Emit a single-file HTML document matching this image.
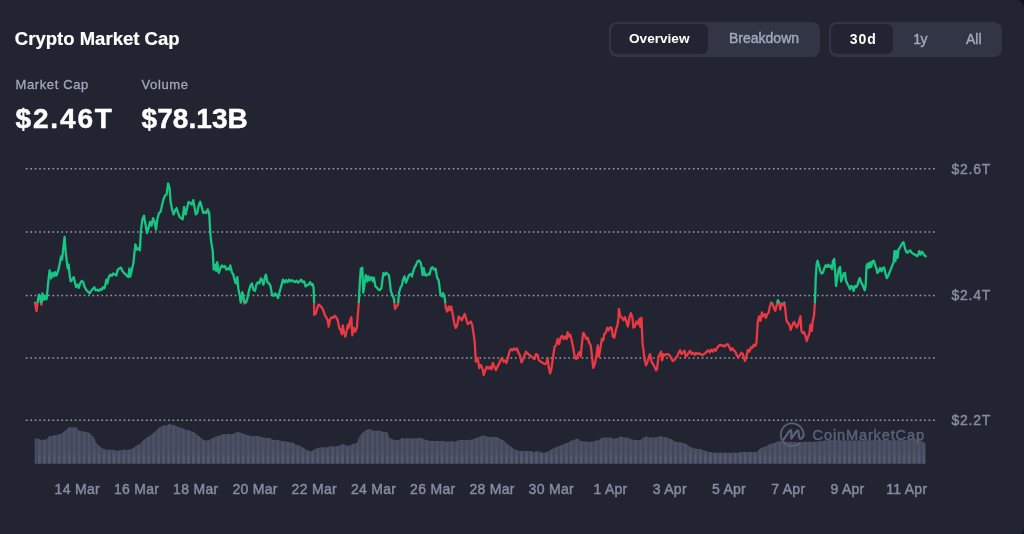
<!DOCTYPE html>
<html lang="en">
<head>
<meta charset="utf-8">
<title>Crypto Market Cap</title>
<style>
html,body{margin:0;padding:0;}
body{width:1024px;height:534px;overflow:hidden;background:#0d1421;font-family:"Liberation Sans",Arial,sans-serif;}
.card{position:absolute;left:0;top:0;width:1024px;height:534px;background:#222531;border-radius:0 7px 4px 0 / 0 10px 6px 0;overflow:hidden;}
.layer{position:absolute;left:0;top:0;width:1024px;height:534px;will-change:transform;}
.abs{position:absolute;white-space:nowrap;line-height:1;}
.title{left:14.8px;top:30px;font-size:18.5px;font-weight:700;color:#fff;letter-spacing:0.02px;-webkit-text-stroke:0.2px #fff;}
.lbl{font-size:13px;color:#a1a7bb;letter-spacing:0.62px;-webkit-text-stroke:0.3px #a1a7bb;}
.val{font-size:28px;font-weight:700;color:#fff;-webkit-text-stroke:0.45px #fff;}
.seg{position:absolute;background:#323546;border-radius:8px;}
.pill{position:absolute;background:#222531;border-radius:6px;}
.btn{font-size:14px;font-weight:400;color:#a1a7bb;-webkit-text-stroke:0.45px #a1a7bb;}
.btn.on{color:#fff;font-weight:700;-webkit-text-stroke:0;}
svg{position:absolute;left:0;top:0;}
svg text{font-family:"Liberation Sans",Arial,sans-serif;}
</style>
</head>
<body>
<div class="card"></div>
<div class="layer">
<div class="abs title" id="title">Crypto Market Cap</div>
<div class="abs lbl" id="l1" style="left:15.5px;top:78.4px;">Market Cap</div>
<div class="abs lbl" id="l2" style="left:141.5px;top:78.4px;">Volume</div>
<div class="abs val" id="v1" style="left:15.5px;top:105px;letter-spacing:1.85px;">$2.46T</div>
<div class="abs val" id="v2" style="left:141.5px;top:105px;letter-spacing:0.08px;">$78.13B</div>

<div class="seg" style="left:609px;top:21.7px;width:211.2px;height:35.5px;"></div>
<div class="pill" style="left:610.8px;top:23.5px;width:97px;height:30.7px;"></div>
<div class="abs btn on" id="b1" style="left:629px;top:31.5px;font-size:13.6px;">Overview</div>
<div class="abs btn" id="b2" style="left:729px;top:31.3px;">Breakdown</div>

<div class="seg" style="left:829.4px;top:21.7px;width:173px;height:35.6px;"></div>
<div class="pill" style="left:831.2px;top:23.5px;width:61.5px;height:30.7px;"></div>
<div class="abs btn on" id="b3" style="left:849.7px;top:31.9px;letter-spacing:1px;">30d</div>
<div class="abs btn" id="b4" style="left:913.3px;top:31.9px;letter-spacing:-0.5px;">1y</div>
<div class="abs btn" id="b5" style="left:966px;top:31.9px;">All</div>

<svg width="1024" height="534" viewBox="0 0 1024 534">
<defs>
<linearGradient id="lg" gradientUnits="userSpaceOnUse" x1="0" y1="0" x2="0" y2="534">
<stop offset="0" stop-color="#16c784"/>
<stop offset="0.56685" stop-color="#16c784"/>
<stop offset="0.56685" stop-color="#ea3943"/>
<stop offset="1" stop-color="#ea3943"/>
</linearGradient>
<pattern id="stripes" patternUnits="userSpaceOnUse" x="32.95" y="400" width="4.97" height="70">
<rect x="0" y="0" width="4.97" height="70" fill="#43475a"/>
<rect x="0" y="0" width="3" height="70" fill="#4c5065"/>
<path d="M0 64 L0 58 L1.5 52.5 L3 58 L3 64 Z" fill="#53586e"/>
<rect x="3" y="58.5" width="1.97" height="5.5" fill="#3f4356"/>
</pattern>
</defs>
<g stroke="#95969f" stroke-width="1.5" stroke-dasharray="1.7 2.747">
<line x1="25.8" x2="936" y1="168.8" y2="168.8"/>
<line x1="25.8" x2="936" y1="231.9" y2="231.9"/>
<line x1="25.8" x2="936" y1="295.5" y2="295.5"/>
<line x1="25.8" x2="936" y1="357.9" y2="357.9"/>
<line x1="25.8" x2="936" y1="420.3" y2="420.3"/>
</g>
<path id="vol" d="M34.8 438.4 L38.8 438.7 L40.5 440.0 L46.7 439.6 L49.0 436.1 L52.9 435.7 L55.5 434.9 L58.1 434.7 L61.6 433.5 L65.2 430.5 L69.0 427.3 L76.6 427.3 L79.2 430.8 L82.7 431.2 L86.2 432.1 L88.9 432.6 L91.5 434.7 L93.6 437.0 L95.9 442.2 L99.4 446.3 L103.0 448.8 L106.5 449.8 L112.6 449.8 L117.9 450.7 L123.2 449.8 L128.4 449.8 L132.8 448.4 L135.5 446.3 L139.9 444.0 L142.5 441.0 L146.0 437.9 L150.4 435.2 L153.9 432.6 L156.6 429.9 L160.1 426.9 L164.5 425.2 L167.1 425.6 L169.7 423.4 L172.4 425.0 L175.9 425.6 L178.5 427.3 L182.1 427.7 L184.7 429.4 L188.2 429.9 L191.7 431.2 L195.2 433.1 L198.8 436.1 L200.0 437.0 L203.5 440.0 L207.9 440.5 L211.4 438.7 L215.8 436.4 L219.3 435.7 L222.8 434.3 L228.1 434.0 L233.4 434.0 L236.9 432.1 L240.4 432.6 L243.9 434.0 L247.5 434.9 L251.8 436.1 L258.0 436.1 L261.5 437.0 L265.9 437.9 L270.3 437.9 L272.9 440.0 L277.3 440.1 L281.7 441.0 L286.1 441.4 L289.6 442.2 L293.2 442.8 L296.7 444.9 L300.2 445.8 L303.7 448.1 L307.2 450.2 L311.6 451.6 L314.3 449.3 L317.8 448.1 L321.3 447.2 L326.6 447.5 L330.1 446.3 L337.1 446.3 L340.6 444.9 L343.3 444.0 L346.8 445.8 L349.4 445.4 L352.9 444.0 L357.3 442.8 L359.1 437.0 L362.6 432.6 L366.1 429.9 L368.8 429.1 L370.0 428.7 L372.6 430.8 L380.6 430.8 L383.2 432.1 L387.2 432.1 L389.0 437.0 L392.0 439.3 L395.5 440.0 L399.0 440.0 L401.3 438.2 L417.5 438.2 L420.1 437.5 L422.7 438.7 L426.2 440.0 L430.6 441.0 L443.8 441.0 L447.3 441.7 L450.9 441.0 L455.2 441.7 L458.8 440.0 L470.2 440.0 L472.8 439.3 L475.5 438.2 L479.0 437.0 L483.4 435.2 L486.9 436.4 L491.3 437.1 L496.6 437.1 L500.1 438.7 L503.6 440.5 L506.2 443.1 L509.7 445.8 L513.3 448.4 L516.8 450.2 L520.3 451.0 L530.0 451.0 L534.4 451.9 L537.0 451.0 L539.6 451.6 L540.0 451.9 L544.4 452.8 L547.9 451.6 L551.4 449.3 L555.8 447.2 L560.2 445.8 L563.7 444.0 L568.1 442.8 L571.6 440.5 L575.2 439.6 L577.8 438.4 L580.4 441.0 L586.6 441.4 L590.1 441.9 L594.5 441.0 L598.9 440.0 L602.4 437.5 L610.3 437.5 L614.7 438.7 L617.3 437.9 L620.9 436.4 L624.4 437.5 L627.9 437.5 L631.4 439.3 L634.9 440.0 L640.2 440.0 L643.7 437.5 L646.4 436.4 L649.9 437.5 L656.0 437.5 L660.4 436.1 L663.9 437.0 L668.3 437.9 L671.8 439.6 L675.4 441.7 L680.6 442.2 L685.0 443.5 L689.4 446.3 L692.9 448.1 L696.4 448.8 L700.8 449.3 L704.4 450.5 L708.8 451.9 L710.0 451.9 L714.4 452.8 L738.1 452.8 L740.8 451.9 L756.6 451.9 L759.2 449.3 L761.9 447.5 L766.2 446.3 L769.8 444.0 L775.0 442.8 L777.7 441.0 L782.1 441.4 L787.3 441.7 L797.9 442.2 L804.9 441.7 L815.5 441.7 L830.0 440.0 L850.0 440.5 L880.0 440.0 L900.0 440.2 L915.0 439.5 L921.0 440.5 L923.5 442.0 L925.5 443.5 L925.5 463.8 L34.8 463.8 Z" fill="url(#stripes)"/>
<g id="wm" fill="none" stroke="#5a6077" stroke-linecap="round" stroke-linejoin="round">
<path stroke-width="1.8" d="M799.5 443.5 A11.4 11.4 0 1 1 803.5 436.2"/>
<path stroke-width="2.2" d="M783.6 439.3 L789.4 431.2 Q791.3 428.8 791.3 432 L791.3 438.7 L796.5 431.4 Q798.4 429.2 798.6 432.4 L799 436.3 Q799.5 439.8 801.6 438.3 Q803 437.2 803.6 435.2"/>
</g>
<text id="wmt" x="812.6" y="440.3" font-size="14.6" fill="#5a6077" stroke="#5a6077" stroke-width="0.5" textLength="111.4" lengthAdjust="spacing">CoinMarketCap</text>
<path id="line" d="M35.0 302.8 L36.5 311.0 L37.5 302.8 L39.0 294.7 L40.0 296.0 L41.0 303.5 L41.5 304.8 L42.5 293.5 L44.1 299.7 L45.6 296.0 L46.6 299.2 L48.1 283.4 L49.6 270.4 L51.1 278.4 L52.6 272.9 L54.1 276.4 L55.1 272.1 L56.6 275.4 L58.1 270.9 L59.6 264.6 L61.1 256.3 L62.1 259.6 L63.6 245.3 L64.6 237.0 L65.6 250.8 L66.7 260.8 L67.7 268.4 L68.7 264.6 L69.7 275.9 L70.7 281.4 L72.2 279.7 L73.7 277.1 L75.2 283.4 L76.2 287.2 L77.7 284.7 L78.7 287.9 L80.2 283.4 L81.7 280.9 L83.2 282.2 L84.7 287.2 L86.2 289.7 L87.7 291.4 L89.7 293.5 L91.2 290.9 L92.8 288.9 L94.3 287.2 L95.8 290.4 L97.3 289.7 L98.8 290.9 L100.3 289.2 L101.8 289.7 L102.8 287.2 L104.3 288.4 L105.3 285.4 L106.3 279.7 L107.3 283.4 L108.8 277.1 L110.3 274.6 L111.8 275.9 L113.3 273.4 L114.8 274.6 L116.3 275.4 L117.8 269.6 L119.4 268.4 L120.9 267.6 L122.4 270.9 L123.9 272.9 L125.4 274.1 L126.9 275.9 L128.4 277.1 L129.4 268.4 L130.4 276.6 L131.9 269.6 L133.4 263.3 L134.4 253.3 L135.4 244.5 L136.9 249.5 L138.4 248.3 L139.9 250.3 L140.9 230.7 L142.4 219.4 L144.0 215.7 L145.5 224.4 L147.0 233.2 L148.5 228.2 L150.0 221.9 L151.5 225.7 L153.0 218.2 L154.5 221.9 L156.0 229.5 L157.5 218.2 L159.0 213.1 L160.5 211.9 L162.0 205.6 L163.5 199.3 L165.0 195.6 L166.6 194.3 L168.1 183.5 L169.6 188.0 L170.6 201.8 L172.1 209.4 L173.6 214.4 L175.1 210.6 L176.6 208.1 L178.1 213.1 L179.6 216.9 L181.1 218.2 L182.6 219.4 L184.1 206.9 L185.6 214.4 L187.1 208.1 L188.6 201.8 L190.1 203.1 L191.7 204.4 L193.2 200.1 L194.7 208.1 L195.7 214.4 L197.2 213.1 L198.7 205.6 L200.2 201.8 L201.7 206.9 L203.2 213.1 L204.7 211.9 L206.2 213.1 L207.7 209.4 L209.2 213.1 L210.2 232.0 L211.2 242.0 L212.7 250.8 L213.7 269.6 L215.2 264.6 L216.2 270.9 L217.2 262.1 L218.8 272.9 L220.3 268.4 L221.8 265.4 L223.3 267.1 L224.8 265.9 L226.3 269.6 L227.8 268.4 L229.3 269.6 L230.3 265.4 L231.8 272.1 L233.3 274.6 L234.8 280.9 L235.8 283.4 L237.3 277.1 L238.3 288.4 L239.8 296.0 L240.8 302.8 L242.3 292.2 L243.3 296.0 L244.4 303.5 L245.9 302.8 L247.4 298.5 L248.9 290.9 L250.4 285.9 L251.9 283.4 L253.4 289.7 L254.9 290.9 L256.4 284.7 L257.9 282.2 L259.4 283.4 L260.9 278.4 L262.4 280.9 L263.4 284.7 L264.9 277.1 L265.9 274.6 L267.4 282.2 L269.0 283.4 L270.5 285.9 L272.0 294.7 L273.5 296.0 L275.0 293.5 L276.5 294.7 L278.0 298.0 L279.5 292.2 L281.5 285.1 L283.0 279.6 L284.5 282.6 L286.0 280.1 L287.5 282.1 L289.0 279.6 L290.5 281.4 L292.1 280.1 L293.6 281.4 L295.1 282.1 L296.6 280.6 L298.1 282.6 L299.6 281.4 L301.1 279.6 L302.6 282.1 L304.1 281.4 L305.6 286.4 L307.1 285.1 L308.6 284.6 L310.1 282.1 L311.6 285.1 L312.6 283.9 L313.6 287.6 L314.1 302.7 L314.1 314.8 L315.6 314.0 L317.1 309.0 L318.6 304.7 L320.2 305.7 L321.7 307.2 L323.2 310.2 L324.7 314.8 L326.2 317.3 L327.7 320.3 L328.7 326.6 L330.2 319.0 L331.7 317.3 L333.2 317.8 L334.7 315.8 L336.2 317.3 L337.7 320.3 L339.2 327.8 L340.7 330.3 L341.8 334.1 L342.8 325.3 L343.8 331.6 L345.3 336.6 L346.8 330.3 L347.8 324.8 L348.8 327.8 L349.8 321.5 L351.3 317.3 L352.3 335.3 L353.8 327.8 L355.3 331.6 L356.8 327.8 L357.8 315.3 L358.8 302.7 L359.8 282.6 L360.8 268.8 L362.3 267.6 L363.3 292.7 L364.8 282.6 L365.8 275.1 L367.4 281.4 L368.4 276.4 L369.9 280.1 L371.4 277.1 L372.9 281.4 L373.9 277.6 L375.4 286.4 L376.9 287.6 L378.4 289.7 L379.9 290.2 L381.4 288.1 L382.4 280.1 L383.4 273.1 L384.9 275.1 L385.9 272.6 L387.4 273.9 L388.9 275.1 L389.9 282.6 L390.9 291.4 L392.4 295.2 L394.0 298.9 L395.0 309.0 L396.5 306.5 L398.0 304.7 L399.0 292.7 L400.5 287.6 L402.0 285.1 L403.0 280.1 L404.5 276.4 L406.0 282.6 L407.5 278.9 L409.0 275.1 L410.5 273.9 L412.0 276.4 L413.0 272.1 L414.5 267.6 L416.0 265.1 L417.6 261.3 L419.1 260.5 L420.6 262.6 L421.6 267.6 L422.6 275.1 L423.6 268.1 L425.1 275.1 L426.6 275.6 L428.1 273.9 L429.6 274.6 L431.1 268.1 L432.6 267.1 L434.1 269.6 L435.6 268.8 L437.1 277.6 L438.6 280.1 L439.6 287.6 L440.6 295.2 L442.1 296.4 L443.1 293.2 L444.7 297.7 L445.7 307.7 L447.2 311.5 L448.7 306.5 L449.7 310.2 L451.2 306.5 L452.7 314.0 L454.2 322.8 L455.7 327.8 L457.2 325.3 L458.7 316.5 L460.2 317.8 L461.7 320.3 L463.2 317.3 L464.7 314.0 L466.2 319.0 L467.8 324.1 L469.3 322.8 L470.8 321.5 L472.3 325.3 L473.8 335.3 L474.8 342.9 L475.8 361.7 L477.3 357.9 L478.3 361.7 L479.3 368.0 L480.8 365.0 L482.3 368.0 L483.8 375.0 L485.3 370.5 L486.8 366.7 L488.3 368.5 L489.8 366.7 L491.4 369.2 L492.9 362.9 L494.4 366.7 L495.9 370.0 L497.4 366.7 L498.9 364.2 L500.4 360.4 L501.9 357.9 L503.4 361.7 L504.9 360.4 L506.4 362.9 L507.9 357.9 L509.4 351.7 L510.9 349.1 L512.4 350.4 L513.9 348.4 L515.4 349.9 L517.0 348.4 L518.5 352.9 L520.0 355.4 L521.5 362.4 L523.0 359.2 L524.5 355.4 L526.0 351.7 L527.5 353.4 L529.0 354.9 L530.0 355.3 L531.5 356.6 L533.0 357.9 L534.5 359.1 L536.0 354.1 L537.5 354.8 L539.0 360.4 L540.5 361.6 L542.0 362.4 L543.5 363.4 L545.1 364.1 L546.6 362.9 L547.6 357.9 L548.6 366.6 L550.1 373.4 L551.6 367.9 L553.1 356.6 L554.6 346.6 L556.1 345.3 L557.6 339.0 L559.1 344.1 L560.6 337.8 L562.1 335.8 L563.6 339.0 L565.1 336.5 L566.6 339.0 L567.6 332.2 L569.2 336.5 L570.2 334.8 L571.7 340.3 L573.2 347.8 L574.7 356.6 L576.2 359.1 L577.7 355.3 L579.2 352.3 L580.7 356.6 L581.7 345.3 L583.2 332.8 L584.7 334.8 L586.2 339.0 L587.7 337.8 L589.2 342.8 L590.7 345.3 L592.2 357.9 L593.2 367.9 L594.8 364.1 L596.3 356.6 L597.8 345.3 L598.8 356.6 L600.3 349.1 L601.8 339.0 L603.3 340.3 L604.3 334.0 L605.8 332.8 L607.3 327.7 L608.8 330.2 L610.3 327.2 L611.8 328.2 L612.8 336.5 L614.3 337.8 L615.8 330.2 L617.4 325.2 L618.4 318.9 L618.9 308.9 L620.4 316.4 L621.9 317.7 L623.4 320.2 L624.9 317.2 L626.4 321.5 L627.9 326.5 L629.4 317.7 L630.9 313.2 L632.4 317.7 L633.4 327.7 L634.9 326.5 L636.4 321.5 L637.9 324.0 L639.4 318.9 L640.4 327.2 L641.5 317.7 L642.5 342.8 L643.5 350.3 L644.5 359.1 L646.0 365.4 L647.5 361.6 L649.0 356.6 L650.0 354.1 L651.5 361.6 L653.0 364.1 L654.5 366.6 L656.0 370.4 L657.0 369.1 L658.5 356.6 L660.0 354.1 L661.0 351.6 L662.0 360.4 L663.5 354.1 L665.0 355.3 L666.5 354.1 L668.0 354.1 L669.6 355.3 L671.1 357.9 L672.6 360.9 L674.1 360.4 L675.6 357.9 L677.1 356.6 L678.6 352.8 L680.1 350.3 L681.6 354.1 L683.1 352.3 L684.6 350.8 L685.6 356.6 L687.1 355.3 L688.6 352.8 L690.1 350.8 L691.6 354.1 L693.1 352.8 L694.7 354.8 L696.2 352.8 L697.7 354.1 L699.2 353.3 L700.7 354.1 L702.2 355.3 L703.7 354.1 L705.2 353.3 L706.7 351.6 L708.2 350.3 L709.7 352.3 L711.2 349.8 L712.7 351.6 L714.2 349.1 L715.7 350.8 L717.2 347.8 L718.8 345.8 L720.3 344.8 L721.8 345.8 L723.3 345.3 L724.8 346.6 L726.3 344.8 L727.8 344.1 L729.3 346.6 L730.8 350.3 L732.3 348.3 L733.8 350.3 L735.3 351.6 L736.8 355.3 L738.3 357.4 L739.8 355.3 L741.4 352.8 L742.9 354.1 L743.9 357.9 L744.9 360.9 L746.4 356.6 L747.9 349.8 L749.4 351.6 L750.9 347.3 L752.4 347.8 L753.9 344.8 L755.4 345.8 L756.4 342.8 L757.8 321.9 L759.1 316.3 L760.5 320.8 L761.9 312.5 L763.2 316.3 L764.5 314.1 L765.9 317.9 L767.2 314.1 L768.6 312.9 L769.9 306.2 L771.3 302.8 L772.6 303.9 L774.0 308.4 L775.3 310.7 L776.7 305.1 L778.0 300.1 L779.4 303.9 L780.3 309.6 L781.6 303.5 L783.0 305.1 L784.3 302.8 L785.2 308.4 L786.1 317.4 L787.0 321.9 L788.4 323.1 L789.7 325.3 L790.6 329.8 L792.0 326.4 L793.3 323.1 L794.2 321.9 L795.6 325.3 L796.9 327.6 L798.3 324.2 L799.2 320.8 L800.5 316.3 L801.4 330.9 L802.8 333.2 L804.1 332.0 L805.5 336.5 L806.8 341.0 L808.2 336.5 L809.5 333.2 L810.4 324.6 L811.8 330.9 L812.6 321.9 L814.0 315.2 L814.9 302.8 L815.8 277.0 L816.7 263.5 L817.6 260.8 L819.0 265.7 L820.3 271.3 L821.6 273.6 L823.0 272.5 L824.4 268.0 L825.7 265.3 L827.0 266.9 L828.4 264.6 L829.7 266.9 L831.1 265.7 L832.0 269.1 L832.9 261.2 L834.2 259.0 L835.1 271.3 L836.0 286.0 L837.4 277.0 L838.7 269.1 L840.1 266.9 L841.0 281.5 L842.3 278.1 L843.7 273.6 L845.0 272.9 L845.9 280.3 L847.3 283.7 L848.6 286.0 L850.0 289.3 L851.3 286.0 L852.7 287.1 L853.6 290.9 L854.9 286.0 L856.3 287.1 L857.6 284.8 L859.0 279.2 L859.9 278.1 L861.2 282.6 L862.6 284.8 L863.5 287.1 L864.8 290.4 L865.7 284.8 L866.6 265.7 L868.0 263.5 L868.9 268.0 L870.2 262.4 L871.1 266.9 L872.5 261.2 L873.8 260.8 L875.1 264.6 L876.5 269.1 L877.4 272.9 L878.8 271.3 L880.1 268.0 L881.5 271.3 L882.8 268.0 L884.1 267.5 L885.5 273.6 L886.9 278.1 L888.2 275.8 L889.5 272.5 L890.9 269.1 L892.2 265.7 L893.6 262.4 L894.5 251.1 L895.4 261.2 L896.3 251.1 L897.6 257.9 L898.5 249.5 L899.9 247.7 L901.2 245.0 L902.6 242.8 L903.5 242.1 L904.8 247.7 L906.2 251.8 L907.5 252.7 L908.9 251.1 L910.2 250.4 L911.6 252.7 L912.9 253.4 L914.3 254.5 L915.6 254.9 L917.0 256.3 L918.3 254.5 L919.2 251.1 L920.6 254.5 L921.9 251.8 L923.3 253.4 L924.6 255.6 L925.7 256.3" fill="none" stroke="url(#lg)" stroke-width="2.3" stroke-linejoin="round" stroke-linecap="round"/>
<g font-size="14" fill="#858ca2" stroke="#858ca2" stroke-width="0.45" id="xl" letter-spacing="0.3">
<text x="77.3" y="494.1" text-anchor="middle">14 Mar</text>
<text x="136.6" y="494.1" text-anchor="middle">16 Mar</text>
<text x="195.8" y="494.1" text-anchor="middle">18 Mar</text>
<text x="255.1" y="494.1" text-anchor="middle">20 Mar</text>
<text x="314.3" y="494.1" text-anchor="middle">22 Mar</text>
<text x="373.6" y="494.1" text-anchor="middle">24 Mar</text>
<text x="432.8" y="494.1" text-anchor="middle">26 Mar</text>
<text x="492.1" y="494.1" text-anchor="middle">28 Mar</text>
<text x="551.3" y="494.1" text-anchor="middle">30 Mar</text>
<text x="610.5" y="494.1" text-anchor="middle">1 Apr</text>
<text x="669.8" y="494.1" text-anchor="middle">3 Apr</text>
<text x="729.0" y="494.1" text-anchor="middle">5 Apr</text>
<text x="788.3" y="494.1" text-anchor="middle">7 Apr</text>
<text x="847.5" y="494.1" text-anchor="middle">9 Apr</text>
<text x="906.8" y="494.1" text-anchor="middle">11 Apr</text>
</g>
<g font-size="14" fill="#858ca2" stroke="#858ca2" stroke-width="0.45" id="yl" letter-spacing="0.75">
<text x="951.5" y="173.8">$2.6T</text>
<text x="951.5" y="300.3">$2.4T</text>
<text x="951.5" y="425.2">$2.2T</text>
</g>
</svg>
</div>
</body>
</html>
